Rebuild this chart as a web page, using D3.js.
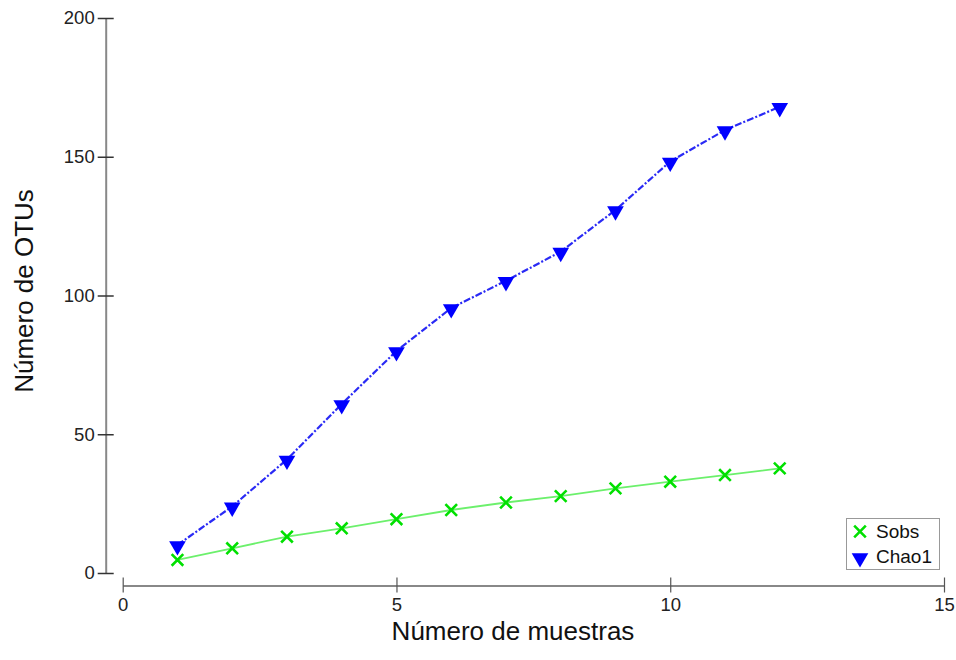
<!DOCTYPE html>
<html><head><meta charset="utf-8">
<script src="https://cdn.jsdelivr.net/npm/d3@7"></script>
<style>html,body{margin:0;padding:0;background:#fff;}svg{display:block;font-family:"Liberation Sans",Arial,sans-serif;}</style>
</head><body>
<svg id="c" width="956" height="660"></svg>
<script>
const samples = [1,2,3,4,5,6,7,8,9,10,11,12];
const sobs = [4.7,8.9,13.1,16.1,19.4,22.7,25.4,27.7,30.5,32.9,35.3,37.7];
const chao1 = [10.1,24.0,40.9,60.9,80.0,95.5,105.3,115.8,130.8,148.3,159.6,168.0];
const xTicks = [0,5,10,15];
const yTicks = [0,50,100,150,200];
const seriesNames = ["Sobs","Chao1"];

const svg = d3.select("#c");
const x = d3.scaleLinear().domain([0,15]).range([122.7,944]);
const y = d3.scaleLinear().domain([0,200]).range([573,18]);
const axisColor = "#888";
const yAxisX = 105.7, xAxisY = 585.5;

// Y axis
const ya = svg.append("g").attr("transform",`translate(${yAxisX},0)`)
  .call(d3.axisLeft(y).tickValues(yTicks).tickSizeInner(8).tickSizeOuter(0).tickPadding(4));
ya.select(".domain").attr("stroke",axisColor).attr("stroke-width",2);
ya.selectAll(".tick line").attr("stroke","#333").attr("stroke-width",1.5).attr("x1",-8).attr("x2",8);
ya.selectAll(".tick text").attr("font-size",18.5).attr("fill","#222").attr("x",-11).attr("font-family","Liberation Sans, Arial, sans-serif");

// X axis
const xa = svg.append("g").attr("transform",`translate(0,${xAxisY})`)
  .call(d3.axisBottom(x).tickValues(xTicks).tickSizeInner(8).tickSizeOuter(0).tickPadding(4));
xa.select(".domain").attr("stroke",axisColor).attr("stroke-width",2);
xa.selectAll(".tick line").attr("stroke","#555").attr("stroke-width",1.2).attr("y1",-8).attr("y2",7);
xa.selectAll(".tick text").attr("font-size",18.5).attr("fill","#222").attr("y",12).attr("font-family","Liberation Sans, Arial, sans-serif");

// Axis titles
svg.append("text").attr("x",513).attr("y",640).attr("text-anchor","middle")
  .attr("font-size",26).attr("fill","#111").text("Número de muestras");
svg.append("text").attr("transform","translate(33,291) rotate(-90)").attr("text-anchor","middle")
  .attr("font-size",26).attr("fill","#111").text("Número de OTUs");

// Lines
const line = d3.line().x((d,i)=>x(samples[i])).y(d=>y(d));
svg.append("path").datum(sobs).attr("d",line).attr("fill","none")
  .attr("stroke","#6cf06c").attr("stroke-width",1.8);
svg.append("path").datum(chao1).attr("d",line).attr("fill","none")
  .attr("stroke","#2a2af5").attr("stroke-width",2.2).attr("stroke-dasharray","7,2,2,2");

// Markers
const xSym = d3.symbol().type(d3.symbolX).size(90);
const triSym = d3.symbol().type(d3.symbolTriangle).size(120);
svg.append("g").selectAll("path").data(sobs).join("path")
  .attr("d",xSym).attr("transform",(d,i)=>`translate(${x(samples[i])},${y(d)})`)
  .attr("stroke","#00e000").attr("stroke-width",2.6).attr("fill","none");
svg.append("g").selectAll("path").data(chao1).join("path")
  .attr("d",triSym).attr("transform",(d,i)=>`translate(${x(samples[i])},${y(d)+1}) rotate(180)`)
  .attr("fill","#0000ff");

// Legend
const lg = svg.append("g");
lg.append("rect").attr("x",846.5).attr("y",518.5).attr("width",93).attr("height",51)
  .attr("fill","#fff").attr("stroke","#999").attr("stroke-width",1);
const items = lg.selectAll("g.item").data(seriesNames).join("g").attr("class","item")
  .attr("transform",(d,i)=>`translate(860,${531.5+i*25})`);
items.append("path").attr("d",(d,i)=> i===0 ? xSym() : triSym())
  .attr("transform",(d,i)=> i===0 ? "" : "translate(0,1.5) rotate(180)")
  .attr("stroke",(d,i)=> i===0 ? "#00e000" : "none")
  .attr("stroke-width",2.6)
  .attr("fill",(d,i)=> i===0 ? "none" : "#0000ff");
items.append("text").attr("x",16).attr("y",6.5).attr("font-size",19).attr("fill","#111").text(d=>d);
</script>
</body></html>
